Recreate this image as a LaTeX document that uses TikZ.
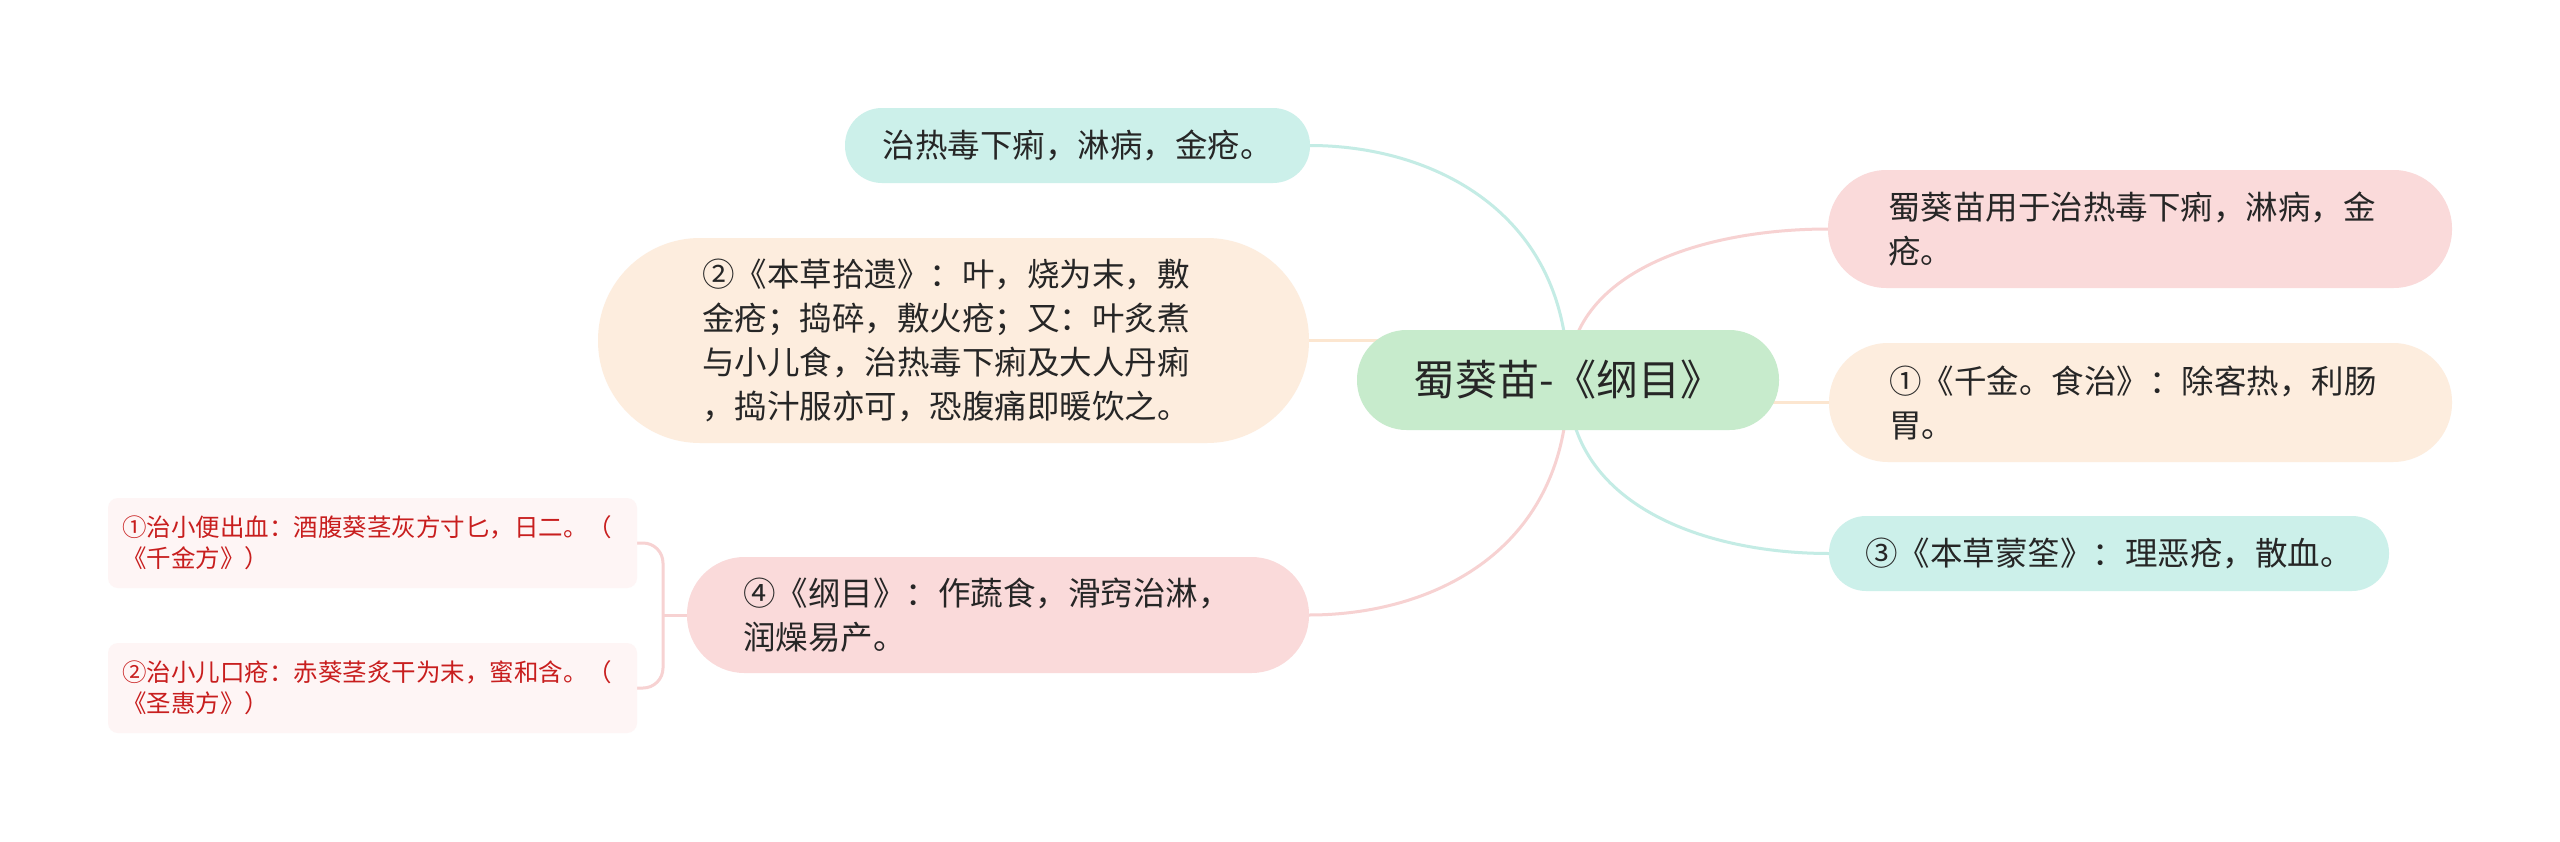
\documentclass[tikz,border=0pt]{standalone}
\usepackage{fontspec}
\setmainfont{Noto Sans CJK SC}
\usetikzlibrary{backgrounds}
\definecolor{cgreen}{RGB}{199,235,204}
\definecolor{cteal}{RGB}{204,240,234}
\definecolor{cpink}{RGB}{250,218,218}
\definecolor{corange}{RGB}{253,237,222}
\definecolor{cleaf}{RGB}{254,245,245}
\definecolor{cred}{RGB}{200,30,30}
\definecolor{ctext}{RGB}{38,38,38}
\definecolor{lteal}{RGB}{196,236,229}
\definecolor{lpink}{RGB}{247,210,210}
\definecolor{lorange}{RGB}{252,230,208}
\begin{document}
\begin{tikzpicture}[x=1pt,y=-1pt,
  every node/.style={inner sep=0pt, outer sep=0pt},
  pill/.style={rectangle, rounded corners=#1, text=ctext,
    font=\fontsize{32.5}{44}\selectfont, align=left},
  leafbox/.style={rectangle, rounded corners=10pt, fill=cleaf, text=cred,
    font=\fontsize{24.5}{31}\selectfont, align=left,
    minimum width=529pt, text width=501pt},
  conn/.style={line width=3pt}
]
\useasboundingbox (0,0) rectangle (2560,841);

% central
\node[pill=49.5pt, fill=cgreen, minimum width=422pt, minimum height=100pt,
  font=\fontsize{42}{50}\selectfont, align=center] (c) at (1568,380) {蜀葵苗-《纲目》};

% left side
\node[pill=37pt, fill=cteal, minimum width=465pt, minimum height=75pt, align=center]
  (t1) at (1077.5,145.5) {治热毒下痢，淋病，金疮。};
\node[pill=102pt, fill=corange, minimum width=711pt, minimum height=205pt, text width=503pt]
  (o1) at (953.5,340.5) {②《本草拾遗》：叶，烧为末，敷\\金疮；捣碎，敷火疮；又：叶炙煮\\与小儿食，治热毒下痢及大人丹痢\\，捣汁服亦可，恐腹痛即暖饮之。};
\node[pill=57.5pt, fill=cpink, minimum width=622pt, minimum height=116pt, text width=510pt]
  (p4) at (998,615) {④《纲目》：作蔬食，滑窍治淋，\\润燥易产。};

% leaves
\node[leafbox, minimum height=90pt] (l1) at (372.5,543) {①治小便出血：酒腹葵茎灰方寸匕，日二。（\\《千金方》）};
\node[leafbox, minimum height=90pt] (l2) at (372.5,688) {②治小儿口疮：赤葵茎炙干为末，蜜和含。（\\《圣惠方》）};
\coordinate (br) at ([xshift=-24pt]p4.west);

% right side
\node[pill=58.5pt, fill=cpink, minimum width=624pt, minimum height=118pt, text width=504pt]
  (rp) at (2140,229) {蜀葵苗用于治热毒下痢，淋病，金\\疮。};
\node[pill=59pt, fill=corange, minimum width=623pt, minimum height=119pt, text width=503pt]
  (ro) at (2140.5,402.5) {①《千金。食治》：除客热，利肠\\胃。};
\node[pill=37pt, fill=cteal, minimum width=560pt, minimum height=75pt, align=center]
  (rt) at (2109,553.5) {③《本草蒙筌》：理恶疮，散血。};

\begin{pgfonlayer}{background}
\fill[white] (0,0) rectangle (2560,841);
\draw[conn, lteal] (c.center) .. controls +(0,-170) and +(120,0) .. (t1.east);
\draw[conn, lorange] (c.center |- o1.east) -- (o1.east);
\draw[conn, lpink] (c.center) .. controls +(0,172) and +(122,0) .. (p4.east);
\draw[conn, lpink] (c.center) .. controls +(0,-110) and +(-122,0) .. (rp.west);
\draw[conn, lorange] (c.center |- ro.west) -- (ro.west);
\draw[conn, lteal] (c.center) .. controls +(0,126) and +(-123,0) .. (rt.west);
\draw[conn, lpink] (p4.west) -- (br);
\draw[conn, lpink, rounded corners=20pt] (l1.east) -| (br) |- (l2.east);
\end{pgfonlayer}
\end{tikzpicture}
\end{document}
